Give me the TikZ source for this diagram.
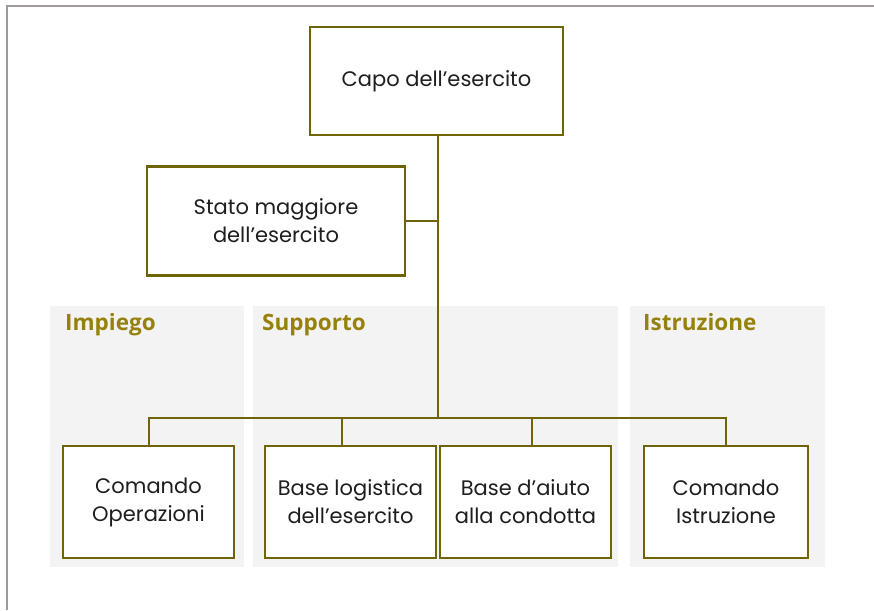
\documentclass[tikz,border=0pt]{standalone}
\usepackage{fontspec}
\setmainfont{Poppins}
\newfontfamily\labelfont{Open Sans}
\definecolor{oliveline}{RGB}{112,100,8}
\definecolor{grouptext}{RGB}{150,130,10}
\definecolor{groupfill}{RGB}{243,243,243}
\definecolor{framegray}{RGB}{160,154,154}
\definecolor{unittext}{RGB}{30,30,30}
\tikzset{
  unit/.style={draw=oliveline, line width=2.2pt, fill=white, align=center,
    text=unittext, inner sep=0pt, font=\fontsize{21}{28}\selectfont},
  link/.style={draw=oliveline, line width=2pt},
  grouplabel/.style={anchor=base west, text=grouptext, inner sep=0pt,
    font=\labelfont\fontsize{22.5}{26}\selectfont\bfseries},
  groupbox/.style={fill=groupfill, draw=none},
}
\begin{document}
\begin{tikzpicture}[x=1pt,y=-1pt]
				\useasboundingbox (0,0) rectangle (874,610);
				\draw[framegray, line width=1.2pt] (874,6) -- (7,6) -- (7,610);

				% gruppi
				\fill[groupbox] (50,306) rectangle (244,567);
				\fill[groupbox] (253,306) rectangle (618,567);
				\fill[groupbox] (630,306) rectangle (825,567);
				\node[grouplabel] (impiego) at (65,330) {Impiego};
				\node[grouplabel] (supporto) at (262,330) {Supporto};
				\node[grouplabel] (istruzione) at (643,330) {Istruzione};

				\node[unit, minimum width=253pt, minimum height=108pt] (capo) at (436.5,81) {Capo dell'esercito};
				\node[unit, minimum width=258pt, minimum height=109pt] (stato) at (276,221) {Stato maggiore\\dell'esercito};

				\node[unit, minimum width=171pt, minimum height=112pt] (op) at (148.5,502) {Comando\\Operazioni};
				\node[unit, minimum width=171pt, minimum height=112pt] (logi) at (350.5,502) {Base logistica\\dell'esercito};
				\node[unit, minimum width=171pt, minimum height=112pt] (aiuto) at (525.5,502) {Base d'aiuto\\alla condotta};
				\node[unit, minimum width=164pt, minimum height=112pt] (istr) at (726,502) {Comando\\Istruzione};

				\coordinate (bus) at (438,418);
				\draw[link] (capo.south -| bus) -- (bus);
				\draw[link] (stato.east) -- (stato.east -| bus);
				\draw[link] (op.north) |- (bus) -| (istr.north);
				\draw[link] ([xshift=-8.5pt]logi.north) -- ([xshift=-8.5pt]logi.north |- bus);
				\draw[link] ([xshift=6.5pt]aiuto.north) -- ([xshift=6.5pt]aiuto.north |- bus);
			\end{tikzpicture}
\end{document}
